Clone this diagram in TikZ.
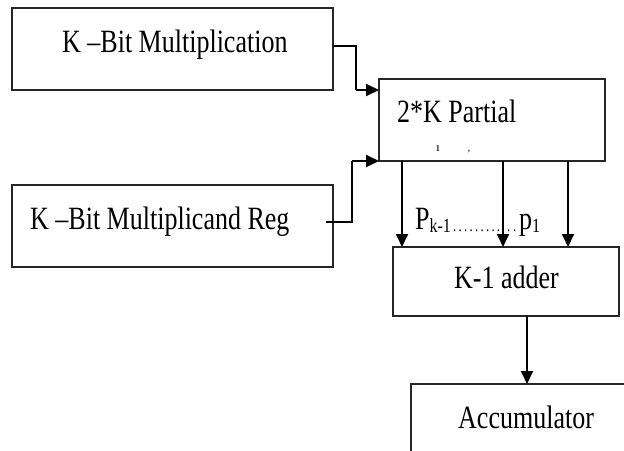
\documentclass[tikz,border=0pt]{standalone}
\usepackage{fontspec}
\setmainfont{Liberation Serif}[FakeStretch=0.8]
\usetikzlibrary{arrows.meta}
\begin{document}
\begin{tikzpicture}[x=1pt,y=-1pt,
  box/.style={draw=black!85, line width=1.8pt, inner sep=0pt, outer sep=0pt},
  lbl/.style={anchor=base west, inner sep=0pt, font=\fontsize{32.5}{38}\selectfont},
  arr/.style={line width=1.8pt, -{Triangle[length=13pt,width=12pt]}},
  ln/.style={line width=1.8pt}]
\useasboundingbox (0,0) rectangle (624,450);
\clip (0,0) rectangle (624,450);
\node[box, minimum width=321pt, minimum height=82pt] (mul) at (172.5,49) {};
\node[box, minimum width=321pt, minimum height=82pt] (reg) at (172.5,226) {};
\node[box, minimum width=226pt, minimum height=82pt] (part) at (492,120) {};
\node[box, minimum width=226pt, minimum height=69pt] (add) at (506,281.5) {};
\node[box, minimum width=240pt, minimum height=100pt] (acc) at (531,434) {};
\node[lbl] (tmul) at (62,52) {K –Bit Multiplication};
\node[lbl] (treg) at (30,229) {K –Bit Multiplicand Reg};
\node[lbl] (tpart) at (397,122) {2*K Partial};
\node[lbl] (tadd) at (454,288) {K-1 adder};
\node[lbl] (tacc) at (458,428) {Accumulator};
\node[anchor=base, inner sep=0pt, font=\fontsize{9}{9}\selectfont\bfseries] (m1) at (438,151) {1};
\node[anchor=base, inner sep=0pt, font=\fontsize{9}{9}\selectfont\bfseries] (m2) at (469,151) {,};
\node[lbl] (pk) at (415,229) {P\raisebox{-3pt}{\fontsize{20}{20}\selectfont k-1}};
\node[anchor=base west, inner sep=0pt, font=\fontsize{16}{16}\selectfont] (dots) at (453,231) {\makebox[47pt]{.\hfill.\hfill.\hfill.\hfill.\hfill.\hfill.\hfill.\hfill.}};
\node[anchor=base west, inner sep=0pt, font=\fontsize{16}{16}\selectfont] (dots2) at (507,231) {\makebox[9pt]{.\hfill.}};
\node[lbl] (p1) at (519,229) {p\raisebox{-3pt}{\fontsize{20}{20}\selectfont 1}};
\draw[ln] ([yshift=3pt]mul.east) -- (356,46) -- (356,90);
\draw[arr] (356,90) -- ([yshift=-11pt]part.north west);
\draw[ln] ([xshift=-7pt,yshift=4pt]reg.east) -- (352,222) -- (352,161);
\draw[arr] (352,161) -- (part.south west);
\draw[arr] ([xshift=23pt]part.south west) -- ([xshift=23pt]part.south west |- add.north);
\draw[arr] ([xshift=124pt]part.south west) -- ([xshift=124pt]part.south west |- add.north);
\draw[arr] ([xshift=189pt]part.south west) -- ([xshift=189pt]part.south west |- add.north);
\draw[arr] ([xshift=21pt]add.south) -- ([xshift=21pt]add.south |- acc.north);
\end{tikzpicture}
\end{document}
